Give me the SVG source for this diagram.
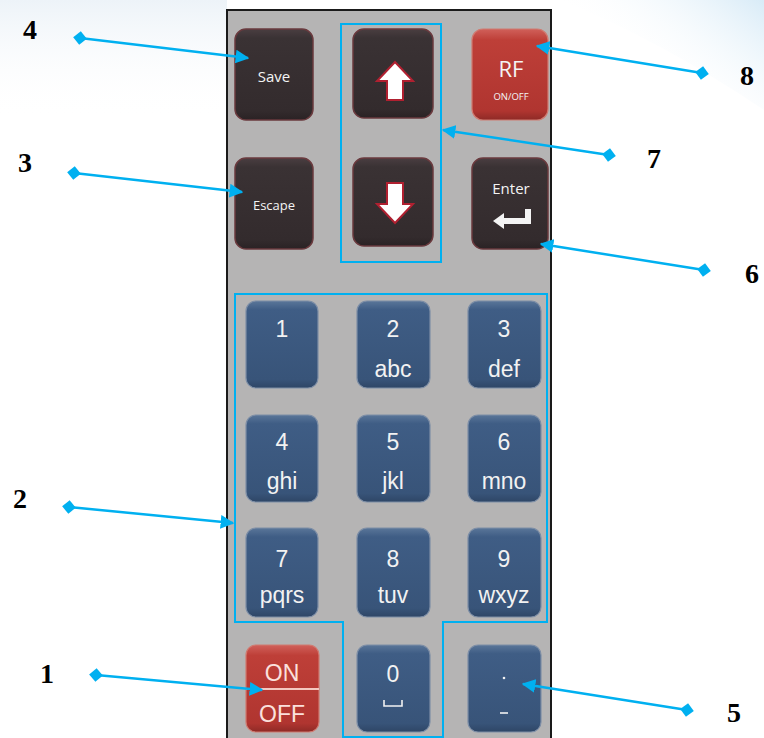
<svg xmlns="http://www.w3.org/2000/svg" width="764" height="738" viewBox="0 0 764 738">
<style>
.dk{fill:url(#gDark);stroke:#6a3a3e;stroke-width:1.5}
.bl{fill:url(#gBlue);stroke:#7d8ea6;stroke-width:1.2}
.rd{fill:url(#gRed);stroke:#d07a70;stroke-width:1.2}
.kt{font-family:"Liberation Sans Narrow","Liberation Sans",sans-serif;fill:#f2f2f2;text-anchor:middle}
.num{font-size:23px}
.let{font-size:23px}
.dt{font-family:"Open Sans","Liberation Sans",sans-serif;fill:#f4f4f4;text-anchor:middle}
.lab{font-family:"Liberation Serif",serif;font-weight:bold;font-size:28px;fill:#000}
.con{stroke:#00b0f0;stroke-width:2.5;fill:none;marker-start:url(#dia);marker-end:url(#arr)}
.box{fill:none;stroke:#00b0f0;stroke-width:2}
.garr{fill:#ffffff;stroke:#b02030;stroke-width:2;stroke-linejoin:miter}
</style>
<defs>
<linearGradient id="gDark" x1="0" y1="0" x2="0" y2="1">
<stop offset="0" stop-color="#4a3e41"/><stop offset="0.1" stop-color="#3a3234"/><stop offset="0.9" stop-color="#332b2d"/><stop offset="1" stop-color="#2a2224"/>
</linearGradient>
<linearGradient id="gBlue" x1="0" y1="0" x2="0" y2="1">
<stop offset="0" stop-color="#5a7699"/><stop offset="0.1" stop-color="#3f5d85"/><stop offset="0.9" stop-color="#385479"/><stop offset="1" stop-color="#2e4666"/>
</linearGradient>
<linearGradient id="gRed" x1="0" y1="0" x2="0" y2="1">
<stop offset="0" stop-color="#d0605a"/><stop offset="0.12" stop-color="#be3f38"/><stop offset="0.9" stop-color="#b03530"/><stop offset="1" stop-color="#8e2a26"/>
</linearGradient>
<linearGradient id="gBg" x1="1" y1="0" x2="0.3" y2="0.5">
<stop offset="0" stop-color="#d8ebf7"/><stop offset="1" stop-color="#ffffff" stop-opacity="0"/>
</linearGradient>
<linearGradient id="gBgL" x1="0" y1="0" x2="0" y2="1">
<stop offset="0" stop-color="#edf3f8"/><stop offset="1" stop-color="#ffffff" stop-opacity="0"/>
</linearGradient>
<marker id="dia" viewBox="-6 -6 12 12" markerWidth="6" markerHeight="6" orient="auto" markerUnits="strokeWidth">
<path d="M-5.5 0 L0 -5.5 L5.5 0 L0 5.5 Z" fill="#00b0f0"/>
</marker>
<marker id="arr" viewBox="0 -5 10 10" refX="9" refY="0" markerWidth="5.5" markerHeight="5.5" orient="auto" markerUnits="strokeWidth">
<path d="M0 -5 L10 0 L0 5 Z" fill="#00b0f0"/>
</marker>
</defs>
<rect width="764" height="738" fill="#ffffff"/>
<path d="M560 0 L764 0 L764 110 Q660 40 560 0 Z" fill="url(#gBg)"/>
<rect x="0" y="0" width="227" height="120" fill="url(#gBgL)"/>

<g id="panel">
<rect x="227" y="10" width="324" height="740" fill="#b5b4b4" stroke="#1a1a1a" stroke-width="2"/>
</g>

<g id="k-save"><rect class="dk" x="235" y="29" width="78" height="91" rx="11"/><text class="dt" x="274" y="82" font-size="15">Save</text></g>
<g id="k-up"><rect class="dk" x="353" y="29" width="80" height="89" rx="11"/><path class="garr" d="M395 62 L413 81 L403 81 L403 100 L387 100 L387 81 L377 81 Z"/></g>
<g id="k-rf"><rect class="rd" x="472" y="29" width="76" height="91" rx="11"/><text class="dt" x="511" y="77" font-size="22">RF</text><text class="dt" x="511" y="100" font-size="9.5">ON/OFF</text></g>
<g id="k-escape"><rect class="dk" x="235" y="158" width="78" height="91" rx="11"/><text class="dt" x="274" y="210" font-size="13">Escape</text></g>
<g id="k-down"><rect class="dk" x="353" y="158" width="80" height="88" rx="11"/><path class="garr" d="M395 223 L413 204 L403 204 L403 183 L387 183 L387 204 L377 204 Z"/></g>
<g id="k-enter"><rect class="dk" x="472" y="158" width="76" height="91" rx="11"/><text class="dt" x="511" y="194" font-size="15">Enter</text><path d="M531 209 L531 224 L504 224 L504 229 L493 221 L504 213 L504 218 L525 218 L525 209 Z" fill="#f4f4f4"/></g>

<g id="k-1"><rect class="bl" x="246" y="301" width="72" height="87" rx="10"/><text class="kt num" x="282" y="337">1</text></g>
<g id="k-2"><rect class="bl" x="357" y="301" width="73" height="87" rx="10"/><text class="kt num" x="393" y="337">2</text><text class="kt let" x="393" y="377">abc</text></g>
<g id="k-3"><rect class="bl" x="468" y="301" width="73" height="87" rx="10"/><text class="kt num" x="504" y="337">3</text><text class="kt let" x="504" y="377">def</text></g>
<g id="k-4"><rect class="bl" x="246" y="415" width="72" height="87" rx="10"/><text class="kt num" x="282" y="450">4</text><text class="kt let" x="282" y="489">ghi</text></g>
<g id="k-5"><rect class="bl" x="357" y="415" width="73" height="87" rx="10"/><text class="kt num" x="393" y="450">5</text><text class="kt let" x="393" y="489">jkl</text></g>
<g id="k-6"><rect class="bl" x="468" y="415" width="73" height="87" rx="10"/><text class="kt num" x="504" y="450">6</text><text class="kt let" x="504" y="489">mno</text></g>
<g id="k-7"><rect class="bl" x="246" y="528" width="72" height="89" rx="10"/><text class="kt num" x="282" y="567">7</text><text class="kt let" x="282" y="603">pqrs</text></g>
<g id="k-8"><rect class="bl" x="357" y="528" width="73" height="89" rx="10"/><text class="kt num" x="393" y="567">8</text><text class="kt let" x="393" y="603">tuv</text></g>
<g id="k-9"><rect class="bl" x="468" y="528" width="73" height="89" rx="10"/><text class="kt num" x="504" y="567">9</text><text class="kt let" x="504" y="603">wxyz</text></g>

<g id="k-onoff"><rect class="rd" x="246" y="645" width="73" height="87" rx="10"/><text class="kt num" x="282" y="681" style="fill:#fbe0dc">ON</text><line x1="246" y1="689" x2="319" y2="689" stroke="#f4c8c0" stroke-width="2"/><text class="kt num" x="282" y="722" style="fill:#fbe0dc">OFF</text></g>
<g id="k-0"><rect class="bl" x="357" y="645" width="73" height="87" rx="10"/><text class="kt num" x="393" y="682">0</text><path d="M384 700 L384 706 L402 706 L402 700" fill="none" stroke="#f2f2f2" stroke-width="1.6"/></g>
<g id="k-dot"><rect class="bl" x="468" y="645" width="73" height="87" rx="10"/><circle cx="504" cy="678" r="1.3" fill="#f2f2f2"/><line x1="500" y1="713" x2="508" y2="713" stroke="#f2f2f2" stroke-width="1.6"/></g>

<g id="groups">
<rect class="box" x="341" y="24" width="100" height="238"/>
<path class="box" d="M235 294 L547 294 L547 622 L443 622 L443 737 L343 737 L343 622 L235 622 Z"/>
</g>

<g id="connectors">
<line class="con" x1="80" y1="38" x2="248" y2="58"/>
<line class="con" x1="74" y1="173" x2="242" y2="192"/>
<line class="con" x1="69" y1="507" x2="233" y2="523"/>
<line class="con" x1="96" y1="675" x2="262" y2="690"/>
<line class="con" x1="702" y1="73" x2="537" y2="46"/>
<line class="con" x1="609" y1="155" x2="443" y2="130"/>
<line class="con" x1="704" y1="270" x2="541" y2="244"/>
<line class="con" x1="687" y1="710" x2="523" y2="684"/>
</g>

<g id="labels">
<text class="lab" x="23" y="39">4</text>
<text class="lab" x="18" y="172">3</text>
<text class="lab" x="13" y="508">2</text>
<text class="lab" x="40" y="683">1</text>
<text class="lab" x="740" y="85">8</text>
<text class="lab" x="647" y="168">7</text>
<text class="lab" x="745" y="283">6</text>
<text class="lab" x="727" y="722">5</text>
</g>
</svg>
